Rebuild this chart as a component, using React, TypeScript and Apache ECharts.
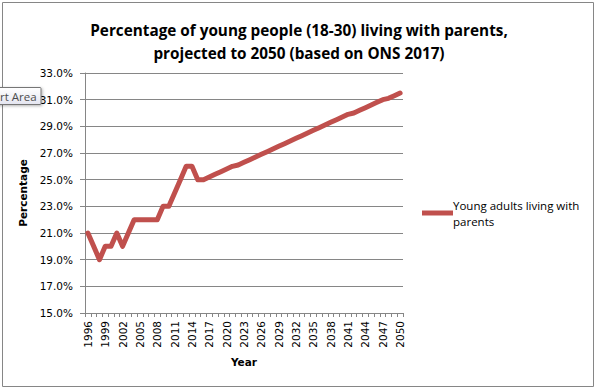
import React, { useEffect, useRef } from 'react';
import * as echarts from 'echarts';

const titleLines = [
  'Percentage of young people (18-30) living with parents,',
  'projected to 2050 (based on ONS 2017)',
];

const years = [
  '1996', '1997', '1998', '1999', '2000', '2001', '2002', '2003', '2004', '2005',
  '2006', '2007', '2008', '2009', '2010', '2011', '2012', '2013', '2014', '2015',
  '2016', '2017', '2018', '2019', '2020', '2021', '2022', '2023', '2024', '2025',
  '2026', '2027', '2028', '2029', '2030', '2031', '2032', '2033', '2034', '2035',
  '2036', '2037', '2038', '2039', '2040', '2041', '2042', '2043', '2044', '2045',
  '2046', '2047', '2048', '2049', '2050',
];

// percent values
const youngAdultsLivingWithParents = [
  21, 20, 19, 20, 20, 21, 20, 21, 22, 22,
  22, 22, 22, 23, 23, 24, 25, 26, 26, 25,
  25.0, 25.2, 25.4, 25.6, 25.8, 26.0, 26.1, 26.3, 26.5, 26.7,
  26.9, 27.1, 27.3, 27.5, 27.7, 27.9, 28.1, 28.3, 28.5, 28.7,
  28.9, 29.1, 29.3, 29.5, 29.7, 29.9, 30.0, 30.2, 30.4, 30.6,
  30.8, 31.0, 31.1, 31.3, 31.5,
];

const seriesName = 'Young adults living with parents';
const legendLines = ['Young adults living with', 'parents'];

// y-axis tick labels run 15.0% .. 33.0% in steps of 2
const yAxisBottom = 15;
const yAxisTop = 33;
const yAxisStep = 2;

const AXIS_FONT = 'DejaVu Sans';
const CAL_FONT = 'Open Sans';
const GRID_GRAY = '#868686';
const LINE_RED = '#C0504D';

export default function App() {
  const ref = useRef<HTMLDivElement>(null);

  useEffect(() => {
    document.body.style.margin = '0';
    const chart = echarts.init(ref.current!, null, { renderer: 'svg' });
    chart.setOption({
      animation: false,
      backgroundColor: '#ffffff',
      title: {
        text: titleLines.join('\n'),
        left: 'center',
        top: 13,
        textStyle: {
          fontFamily: CAL_FONT,
          fontWeight: 'bold',
          fontSize: 15.3,
          lineHeight: 23,
          color: '#000000',
        },
      },
      legend: {
        left: 422,
        top: 189,
        padding: 0,
        itemWidth: 31,
        itemHeight: 5,
        icon: 'rect',
        data: [seriesName],
        formatter: () => legendLines.join('\n'),
        textStyle: {
          fontFamily: CAL_FONT,
          fontSize: 11.5,
          lineHeight: 16,
          color: '#000000',
          padding: [16, 0, 0, -5],
        },
      },
      grid: {
        left: 85,
        top: 73,
        width: 318,
        height: 240,
        containLabel: false,
      },
      xAxis: {
        type: 'category',
        data: years,
        boundaryGap: true,
        name: 'Year',
        nameLocation: 'middle',
        nameGap: 43,
        nameTextStyle: {
          fontFamily: AXIS_FONT,
          fontWeight: 'bold',
          fontSize: 10.5,
          color: '#000000',
        },
        axisLine: { show: true, lineStyle: { color: GRID_GRAY, width: 1 } },
        axisTick: {
          show: true,
          interval: 0,
          length: 4,
          lineStyle: { color: GRID_GRAY, width: 1 },
        },
        axisLabel: {
          interval: 2,
          rotate: 90,
          margin: 8,
          fontFamily: AXIS_FONT,
          fontSize: 10.5,
          color: '#000000',
        },
        splitLine: { show: false },
      },
      yAxis: {
        type: 'value',
        min: 0,
        max: yAxisTop - yAxisBottom,
        interval: yAxisStep,
        name: 'Percentage',
        nameLocation: 'middle',
        nameGap: 50,
        nameTextStyle: {
          fontFamily: AXIS_FONT,
          fontWeight: 'bold',
          fontSize: 10.5,
          color: '#000000',
        },
        axisLine: { show: true, lineStyle: { color: GRID_GRAY, width: 1 } },
        axisTick: { show: true, length: 5, lineStyle: { color: GRID_GRAY, width: 1 } },
        axisLabel: {
          margin: 12,
          fontFamily: AXIS_FONT,
          fontSize: 10.5,
          color: '#000000',
          formatter: (v: number) => (v + yAxisBottom).toFixed(1) + '%',
        },
        splitLine: { show: true, lineStyle: { color: GRID_GRAY, width: 1 } },
      },
      series: [
        {
          name: seriesName,
          type: 'line',
          data: youngAdultsLivingWithParents.map((v) => v - yAxisBottom),
          symbol: 'none',
          lineStyle: { color: LINE_RED, width: 5, cap: 'round', join: 'round' },
          itemStyle: { color: LINE_RED },
        },
      ],
      graphic: [
        {
          type: 'rect',
          shape: { x: 2.5, y: 2.5, width: 591, height: 384 },
          style: { fill: 'none', stroke: GRID_GRAY, lineWidth: 1 },
          silent: true,
          z: 0,
        },
        {
          type: 'group',
          z: 100,
          children: [
            {
              type: 'rect',
              shape: { x: -20, y: 87.5, width: 61, height: 17, r: 1 },
              style: {
                fill: new echarts.graphic.LinearGradient(0, 0, 0, 1, [
                  { offset: 0, color: '#ffffff' },
                  { offset: 1, color: '#e4e5f0' },
                ]),
                stroke: '#767676',
                lineWidth: 1,
                shadowBlur: 3,
                shadowOffsetX: 1,
                shadowOffsetY: 1,
                shadowColor: 'rgba(0,0,0,0.3)',
              },
              z: 100,
            },
            {
              type: 'text',
              x: 0,
              y: 96,
              style: {
                text: 'rt Area',
                fontFamily: CAL_FONT,
                fontSize: 11.5,
                fill: '#4c4c4c',
                verticalAlign: 'middle',
                align: 'left',
              },
              z: 101,
            },
          ],
        },
      ],
    });
    return () => chart.dispose();
  }, []);

  return (
    <div
      ref={ref}
      style={{ width: 598, height: 389, position: 'absolute', left: 0, top: 0 }}
    />
  );
}
